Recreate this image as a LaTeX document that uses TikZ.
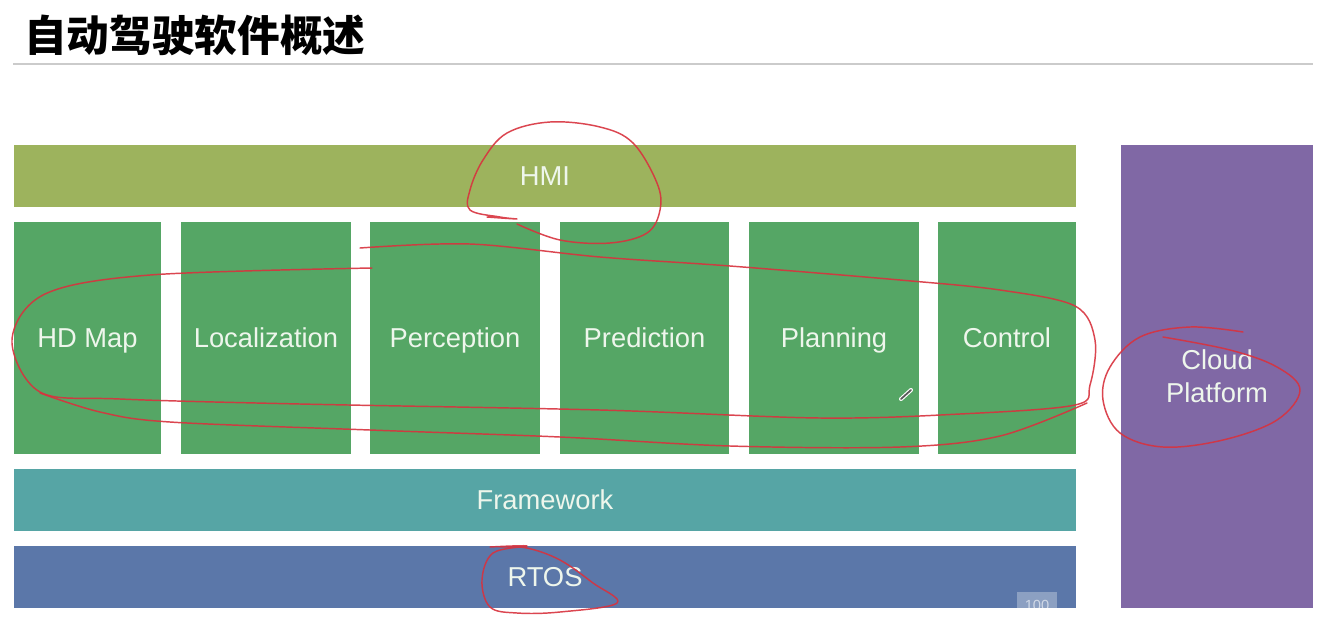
\documentclass[tikz,border=0pt]{standalone}
\usepackage{fontspec}
\setmainfont{Liberation Sans}
\newfontfamily\cjk{Noto Sans CJK SC}
\definecolor{hmic}{HTML}{9DB35D}
\definecolor{modc}{HTML}{55A665}
\definecolor{fwc}{HTML}{56A5A5}
\definecolor{rtosc}{HTML}{5B77A9}
\definecolor{cloudc}{HTML}{8068A5}
\definecolor{inkc}{HTML}{D8323E}
\definecolor{txtc}{HTML}{EEF6EC}
\definecolor{rulec}{HTML}{CBCBCB}
\tikzset{
  blk/.style={rectangle, inner sep=0pt, outer sep=0pt, text=txtc,
    font=\fontsize{20.5}{25}\selectfont, align=center},
  one/.style={text height=14.7pt, text depth=0pt},
  ink/.style={draw=inkc, line width=1.1pt, line cap=round, line join=round, opacity=0.9}
}
\begin{document}
\begin{tikzpicture}[x=0.75pt, y=-0.75pt]
\useasboundingbox (0,0) rectangle (1322,619);
\fill[white] (0,0) rectangle (1322,619);
% title
\node[anchor=west, inner sep=0pt, font=\cjk\bfseries\fontsize{32}{32}\selectfont] (title) at (24,35) {自动驾驶软件概述};
\coordinate (rl) at (13,64);
\coordinate (rr) at (1313,64);
\draw[rulec, line width=1.5pt] (rl) -- (rr);
% blocks
\node[blk, one, fill=hmic, minimum width=1062*0.75pt, minimum height=62*0.75pt] (hmi) at (545,176) {HMI};
\node[blk, one, fill=modc, minimum width=147*0.75pt, minimum height=232*0.75pt] (hdmap) at (87.5,338) {HD Map};
\node[blk, one, fill=modc, minimum width=170*0.75pt, minimum height=232*0.75pt] (loc) at (266,338) {Localization};
\node[blk, one, fill=modc, minimum width=170*0.75pt, minimum height=232*0.75pt] (perc) at (455,338) {Perception};
\node[blk, one, fill=modc, minimum width=169*0.75pt, minimum height=232*0.75pt] (pred) at (644.5,338) {Prediction};
\node[blk, one, fill=modc, minimum width=170*0.75pt, minimum height=232*0.75pt] (plan) at (834,338) {Planning};
\node[blk, one, fill=modc, minimum width=138*0.75pt, minimum height=232*0.75pt] (ctrl) at (1007,338) {Control};
\node[blk, one, fill=fwc, minimum width=1062*0.75pt, minimum height=62*0.75pt] (fw) at (545,500) {Framework};
\node[blk, one, fill=rtosc, minimum width=1062*0.75pt, minimum height=62*0.75pt] (rtos) at (545,577) {RTOS};
\node[blk, fill=cloudc, minimum width=192*0.75pt, minimum height=463*0.75pt] (cloud) at (1217,376.5) {Cloud\\Platform};
% overlay badge
\node[rectangle, fill=white, fill opacity=0.3, text opacity=0.6, text=white, minimum width=40*0.75pt, minimum height=27*0.75pt, inner sep=0pt, font=\fontsize{11}{11}\selectfont] (badge) at (1037,605.5) {100};
% pen cursor
\draw[white, line width=3pt, line cap=round] (901,399) -- (911,390);
\draw[gray!70!black, line width=1.3pt, line cap=round] (901,399) -- (911,390);
% red annotations
\draw[ink] plot[smooth, tension=0.6] coordinates {(487,217) (517,219) (500,217) (470,210) (470,190) (483,160) (507,133) (550,122) (600,127) (633,143) (657,183) (660,210) (647,233) (610,243) (560,240) (517,224)};
\draw[ink] plot[smooth, tension=0.55] coordinates {(360,248) (470,244) (600,257) (730,266) (900,280) (1000,290) (1075,306) (1095,340) (1090,385) (1075,405) (960,414) (820,418) (600,410) (300,404) (120,399) (40,392) (12,340) (45,294) (150,275) (372,268)};
\draw[ink] plot[smooth, tension=0.55] coordinates {(40,393) (100,412) (170,422) (370,430) (560,437) (730,446) (900,447) (1000,436) (1087,403)};
\draw[ink] plot[smooth, tension=0.6] coordinates {(1243,332) (1190,327) (1140,337) (1110,367) (1103,400) (1120,433) (1163,447) (1223,440) (1277,420) (1300,390) (1277,367) (1230,350) (1163,337)};
\draw[ink] plot[smooth, tension=0.6] coordinates {(490,547) (527,546) (493,553) (482,580) (490,607) (517,613) (560,612) (617,603) (593,583) (560,560) (527,548) (500,547)};
\end{tikzpicture}
\end{document}
